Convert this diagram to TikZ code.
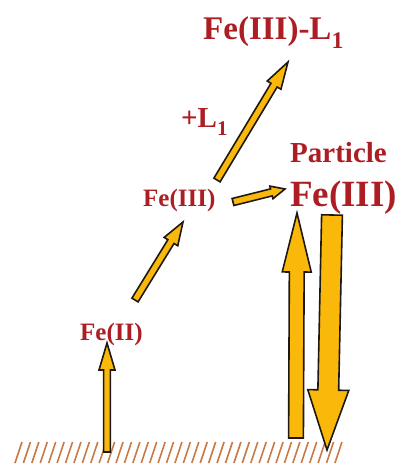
\documentclass[tikz,border=0pt]{standalone}
\usepackage{fontspec}
\setmainfont{Liberation Serif}
\usetikzlibrary{calc}
\definecolor{txtred}{RGB}{172,30,36}
\definecolor{arrfill}{RGB}{249,184,10}
\definecolor{arredge}{RGB}{30,24,20}
\definecolor{hatchc}{RGB}{200,122,70}
\newcommand\blockarr[5]{% from, to, shaft half, head half, head length
  \path ($(#2)!#5!(#1)$) coordinate (hh);
  \draw[blk] ($(#1)!#3!90:(#2)$) -- ($(hh)!#3!90:(#2)$) -- ($(hh)!#4!90:(#2)$) -- (#2)
    -- ($(hh)!#4!-90:(#2)$) -- ($(hh)!#3!-90:(#2)$) -- ($(#1)!#3!-90:(#2)$) -- cycle;}
\newcommand\lowsub[1]{\raisebox{-0.28em}{\scalebox{0.72}{#1}}}
\begin{document}
\begin{tikzpicture}[x=1pt,y=-1pt,
  lbl/.style={text=txtred, inner sep=0pt, anchor=base west, font=\bfseries},
  blk/.style={fill=arrfill, draw=arredge, line width=1.6pt, line join=miter},
  hatch/.style={draw=hatchc, line width=1.6pt}]
\useasboundingbox (0,0) rectangle (399,464);
% ground hatch
\foreach \i in {0,...,38} {
  \draw[hatch] ({15+8.42*\i},463) -- ({22+8.42*\i},442);
}
% labels
\node[lbl, font=\bfseries\fontsize{33}{33}\selectfont] (fel) at (203,39) {Fe(III)-L\lowsub{1}};
\node[lbl, font=\bfseries\fontsize{29}{29}\selectfont] (plus) at (181,127) {+L\lowsub{1}};
\node[lbl, font=\bfseries\fontsize{29}{29}\selectfont] (part) at (290,162) {Particle};
\node[lbl, font=\bfseries\fontsize{37}{37}\selectfont] (fep) at (290,206) {Fe(III)};
\node[lbl, font=\bfseries\fontsize{25}{25}\selectfont] (fe3) at (143,206) {Fe(III)};
\node[lbl, font=\bfseries\fontsize{25}{25}\selectfont] (fe2) at (80,340) {Fe(II)};
% arrow end points
\coordinate (a1s) at (107,452); \coordinate (a1e) at (107,343);
\coordinate (a2s) at (135,300); \coordinate (a2e) at (183,222);
\coordinate (a3s) at (217,180); \coordinate (a3e) at (288,62);
\coordinate (a4s) at (233,202); \coordinate (a4e) at (285,189);
\coordinate (a5s) at (296,438); \coordinate (a5e) at (297,213);
\coordinate (a6s) at (332,215); \coordinate (a6e) at (327,450);
% arrows
\blockarr{a1s}{a1e}{3.4pt}{8pt}{27pt}
\blockarr{a2s}{a2e}{3.6pt}{8pt}{23pt}
\blockarr{a3s}{a3e}{3.6pt}{8pt}{27pt}
\blockarr{a4s}{a4e}{3.6pt}{6.5pt}{14pt}
\blockarr{a5s}{a5e}{7.4pt}{14.5pt}{59pt}
\blockarr{a6s}{a6e}{10.4pt}{20.5pt}{60pt}
\end{tikzpicture}
\end{document}
